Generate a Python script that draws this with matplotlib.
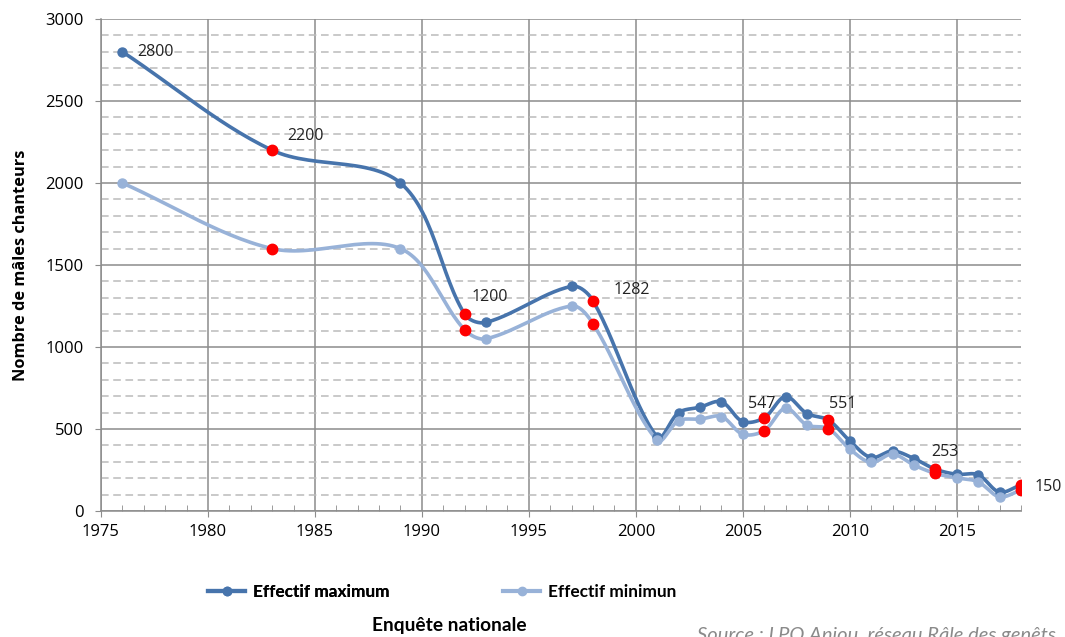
import matplotlib.pyplot as plt
import numpy as np
from matplotlib.lines import Line2D

# years of the counts
years = [1976, 1983, 1989, 1992, 1993, 1997, 1998, 2001, 2002, 2003, 2004, 2005,
         2006, 2007, 2008, 2009, 2010, 2011, 2012, 2013, 2014, 2015, 2016, 2017, 2018]
eff_max = [2800, 2200, 2000, 1200, 1150, 1370, 1282, 450, 600, 633, 666, 545,
           568, 698, 594, 555, 428, 326, 366, 320, 255, 224, 221, 115, 160]
eff_min = [2000, 1600, 1600, 1105, 1050, 1250, 1142, 430, 551, 560, 576, 468,
           490, 627, 524, 502, 378, 296, 347, 280, 229, 202, 178, 86, 128]

# national survey years (red points) and their labels
survey_years = [1983, 1992, 1998, 2006, 2009, 2014, 2018]
label_years = [1976, 1983, 1992, 1998, 2006, 2009, 2014, 2018]
label_texts = ['2800', '2200', '1200', '1282', '547', '551', '253', '150']
# label offsets from the point, in pixels (right, up)
label_dx = [15, 15, 7, 21, -16, 1, -4, 14]
label_dy = [0, 14, 17, 11, 14, 16, 17, -2]

c_max = '#4774AC'
c_min = '#98B2D8'

# pixel scales of the plot, used so the smoothing looks like excel's
sx_px, sy_px = 21.4, 0.164


def smooth(x, y, n=30):
    p = np.column_stack([np.asarray(x, float) * sx_px, np.asarray(y, float) * sy_px])
    out = [p[0]]
    m = len(p)
    for i in range(m - 1):
        p0, p1, p2 = p[max(i - 1, 0)], p[i], p[i + 1]
        p3 = p[min(i + 2, m - 1)]
        d01 = np.linalg.norm(p1 - p0)
        d12 = np.linalg.norm(p2 - p1)
        d23 = np.linalg.norm(p3 - p2)
        t1 = (p2 - p0) * d12 / (d01 + d12) / 3 if d01 > 0 else (p2 - p1) / 3
        t2 = (p3 - p1) * d12 / (d12 + d23) / 3 if d23 > 0 else (p2 - p1) / 3
        b1 = p1 + t1
        b2 = p2 - t2
        for t in np.linspace(0, 1, n)[1:]:
            out.append((1 - t) ** 3 * p1 + 3 * (1 - t) ** 2 * t * b1
                       + 3 * (1 - t) * t ** 2 * b2 + t ** 3 * p2)
    out = np.array(out)
    return out[:, 0] / sx_px, out[:, 1] / sy_px


fig = plt.figure(figsize=(10.65, 6.37), dpi=100)
ax = fig.add_axes([0.0948, 0.1978, 0.8638, 0.7724])

for vals, col in [(eff_max, c_max), (eff_min, c_min)]:
    cx, cy = smooth(years, vals)
    ax.plot(cx, cy, color=col, lw=2.6, zorder=3, solid_capstyle='round')
    ax.plot(years, vals, 'o', color=col, ms=6.5, zorder=4)
    red = [v for yr, v in zip(years, vals) if yr in survey_years]
    ax.plot(survey_years, red, 'o', color='#FF0000', ms=7.5, zorder=5)

for yr, txt, dx, dy in zip(label_years, label_texts, label_dx, label_dy):
    v = eff_max[years.index(yr)]
    ax.annotate(txt, (yr, v), xytext=(dx * 0.72, dy * 0.72), textcoords='offset points',
                fontsize=11.5, family='Open Sans', color='#222222', ha='left', va='center',
                zorder=6)

ax.set_xlim(1975, 2018)
ax.set_ylim(0, 3000)
ax.set_xticks(range(1975, 2016, 5))
ax.set_xticks(range(1975, 2019), minor=True)
ax.set_yticks(range(0, 3001, 500))
ax.set_yticks(range(0, 3001, 100), minor=True)
ax.grid(which='major', color='#8C8C8C', lw=1.1)
ax.grid(which='minor', axis='y', color='#BBBBBB', lw=1.1, ls=(0, (5, 3)))
ax.set_axisbelow(True)
ax.tick_params(axis='both', which='major', labelsize=12, length=4.5, color='#8C8C8C', pad=8)
ax.tick_params(axis='x', which='major', pad=5)
ax.tick_params(axis='x', which='minor', direction='in', length=4, color='#8C8C8C')
ax.tick_params(axis='y', which='minor', length=0)
for lab in ax.get_xticklabels() + ax.get_yticklabels():
    lab.set_family('Open Sans')
for s in ['top', 'right']:
    ax.spines[s].set_visible(False)
for s in ['left', 'bottom']:
    ax.spines[s].set_color('#8C8C8C')
    ax.spines[s].set_linewidth(1.1)

ax.set_ylabel('Nombre de mâles chanteurs', fontsize=11.8, fontweight='bold',
              family='Open Sans', labelpad=12)

leg_font = {'family': 'Lato', 'weight': 'bold', 'size': 12.4}
h_max = Line2D([], [], color=c_max, lw=3, marker='o', ms=6)
h_min = Line2D([], [], color=c_min, lw=3, marker='o', ms=6)
leg1 = fig.legend([h_max], ['Effectif maximum'], loc='center left',
                  bbox_to_anchor=(208 / 1065, 1 - 592 / 637), frameon=False,
                  borderpad=0, borderaxespad=0, handlelength=2.15, handletextpad=0.45,
                  prop=leg_font)
fig.legend([h_min], ['Effectif minimun'], loc='center left',
           bbox_to_anchor=(503 / 1065, 1 - 592 / 637), frameon=False,
           borderpad=0, borderaxespad=0, handlelength=2.15, handletextpad=0.45,
           prop=leg_font)
fig.add_artist(leg1)

fig.text(449 / 1065, 1 - 626 / 637, 'Enquête nationale', ha='center', va='center',
         fontsize=13.8, fontweight='bold', family='Lato')
fig.text(697 / 1065, 1 - 627 / 637, 'Source : LPO Anjou, réseau Râle des genêts',
         ha='left', va='top', fontsize=14.5, style='italic', color='#8A8A8A', family='Lato')

fig.savefig('out.png', dpi=100)
